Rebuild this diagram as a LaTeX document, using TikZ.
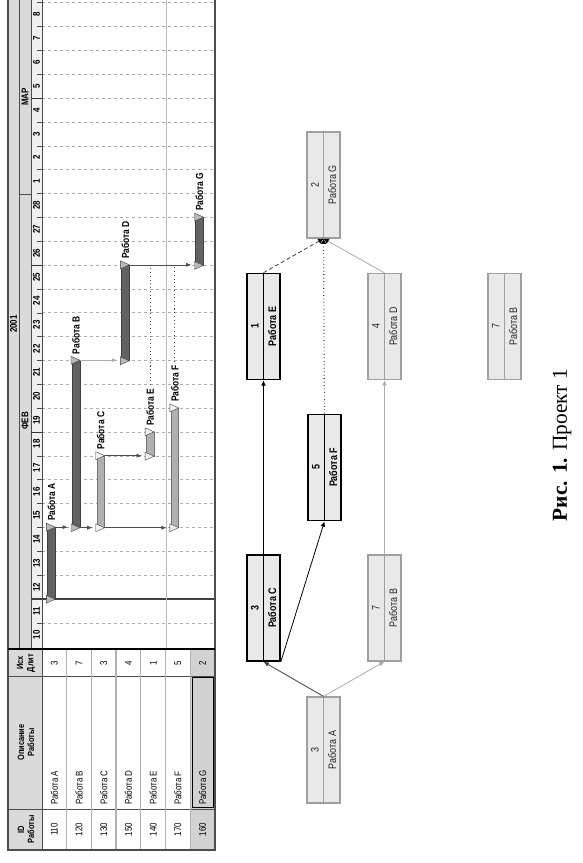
\documentclass[tikz,border=0pt]{standalone}
\usepackage{fontspec}
\setmainfont{Liberation Serif}
\newfontfamily\nar{Liberation Sans}[FakeStretch=0.82]
\usetikzlibrary{arrows.meta,calc}
\definecolor{darkbar}{HTML}{626262}
\definecolor{lightbar}{HTML}{B0B0B0}
\definecolor{hdrgray}{HTML}{DADADA}
\definecolor{nodefill}{HTML}{E9E9E9}
\newcommand\gtri[2]{\filldraw[fill=#2,draw=black!75,line width=0.3pt] ($(#1)+(-5,-4)$) -- ($(#1)+(-5,4)$) -- ($(#1)+(4,0)$) -- cycle;}
\newcommand\netnode[7]{%
  \node[pnode,#6] (#1) at (#2,#3) {};
  \draw[#6,line width=0.6pt] (#1.east) -- (#1.west);
  \node[ntext,#7] (#1num) at ($(#1.center)!0.5!(#1.north)$) {#4};
  \node[ntext,#7] (#1lab) at ($(#1.center)!0.5!(#1.south)$) {#5};}
\begin{document}
\begin{tikzpicture}[x=0.75pt,y=-0.75pt,
 lbl/.style={rotate=90,inner sep=0pt},
 tcell/.style={lbl,font=\nar\fontsize{7.3}{8}\selectfont},
 thead/.style={lbl,font=\nar\bfseries\fontsize{6.8}{7.6}\selectfont,align=center},
 daylbl/.style={lbl,font=\nar\bfseries\fontsize{7.3}{8}\selectfont},
 barlbl/.style={lbl,anchor=west,font=\nar\bfseries\fontsize{7.7}{8}\selectfont},
 gbar/.style={rectangle,inner sep=0pt,minimum width=5.8pt,line width=0.4pt},
 critbar/.style={gbar,fill=darkbar,draw=black!75},
 softbar/.style={gbar,fill=lightbar,draw=black!55},
 griddash/.style={gray!65,line width=0.5pt,dash pattern=on 2pt off 2.5pt},
 garr/.style={-{Latex[length=4pt,width=3pt]},line width=0.5pt,black!70,shorten >=3pt},
 slack/.style={black!70,line width=0.8pt,dotted},
 pnode/.style={rotate=90,rectangle,fill=nodefill,minimum width=79.5pt,minimum height=24.75pt,inner sep=0pt},
 normn/.style={draw=gray!75,line width=0.9pt},
 critn/.style={draw=black,line width=1.2pt},
 normtxt/.style={font=\nar\fontsize{8.2}{9}\selectfont,text=black!85},
 crittxt/.style={font=\nar\bfseries\fontsize{8.2}{9}\selectfont},
 ntext/.style={rotate=90,inner sep=0pt},
 netarr/.style={-{Latex[length=4pt,width=3.5pt]},line width=0.6pt},
 garrG/.style={-{Latex[length=4pt,width=4.5pt,color=black]},line width=0.6pt}
]
\useasboundingbox (0,0) rectangle (582,863);
\fill[white] (0,0) rectangle (582,863);

% ---------- Gantt header bands ----------
\fill[hdrgray] (8,0) rectangle (42,850);
\fill[gray!12] (31,0) rectangle (42,648);
\fill[gray!35] (190.9,650) rectangle (215,850);
\draw[gray!60!black,line width=0.5pt] (19,0) -- (19,648);
\draw[gray!60!black,line width=0.5pt] (31,0) -- (31,648);
\draw[gray!60!black,line width=0.6pt] (19,194.4) -- (31,194.4);

% grid lines and day labels
\foreach \i in {11,...,37} {
  \pgfmathsetmacro\yy{599-(\i-12)*23.85}
  \draw[griddash] (42,\yy) -- (215,\yy);
  \draw[gray!60!black,line width=0.4pt] (37,\yy) -- (42,\yy);
}
\foreach \i in {10,...,36} {
  \pgfmathsetmacro\yy{599-(\i-12)*23.85-11.925}
  \pgfmathtruncatemacro\dd{\i>28 ? \i-28 : \i}
  \node[daylbl] (day\i) at (36.5,\yy) {\dd};
}
\foreach \i in {19,26,33} {
  \pgfmathsetmacro\yy{599-(\i-12)*23.85}
  \draw[black!80,line width=0.8pt] (31,\yy) -- (42,\yy);
}
\draw[black!75,line width=0.9pt] (31,599) -- (215,599);
\draw[gray!55,line width=0.7pt] (166,0) -- (166,648);

\node[daylbl] (hYear) at (13.5,324) {2001};
\node[daylbl] (hFeb) at (25,421) {ФЕВ};
\node[daylbl] (hMar) at (25,97) {МАР};

% ---------- table ----------
\draw[gray!60!black,line width=0.6pt] (8,676) -- (215,676);
\draw[gray!60!black,line width=0.6pt] (8,809) -- (215,809);
\foreach \k in {1,...,6} {
  \draw[gray!60,line width=1pt] ({42+24.7*\k},650) -- ({42+24.7*\k},850);
}
\draw[black,line width=1.1pt] (192.6,677.5) rectangle (213.4,807.5);
\draw[gray!60!black,line width=0.6pt] (42,0) -- (42,850);
\draw[gray!60!black,line width=0.8pt] (8,0) -- (8,850) -- (215,850) -- (215,0);
\draw[black,line width=1.6pt] (8,649) -- (215,649);

\node[thead] (hID) at (26,829.5) {ID\\Работы};
\node[thead] (hDesc) at (26,742.5) {Описание\\Работы};
\node[thead] (hDur) at (26,663) {Исх\\Длит};

\foreach \id/\nm/\du [count=\k from 0] in {110/A/3,120/B/7,130/C/3,150/D/4,140/E/1,170/F/5,160/G/2} {
  \pgfmathsetmacro\xc{42+24.7*(\k+0.5)}
  \node[tcell] (id\k) at (\xc,829.5) {\id};
  \node[tcell,anchor=west] (ds\k) at (\xc,805) {Работа \nm};
  \node[tcell] (du\k) at (\xc,663) {\du};
}

% ---------- bars ----------
\node[critbar,minimum height=53.66pt] (barA) at (51.3,563.2) {};
\node[critbar,minimum height=125.2pt] (barB) at (76,444) {};
\node[softbar,minimum height=53.66pt] (barC) at (100.7,491.7) {};
\node[critbar,minimum height=71.55pt] (barD) at (125.4,312.8) {};
\node[softbar,minimum height=17.9pt] (barE) at (150.1,444) {};
\node[softbar,minimum height=89.4pt] (barF) at (174.8,467.8) {};
\node[critbar,minimum height=35.8pt] (barG) at (199.5,241.25) {};

\gtri{barA.north}{gray!55}\gtri{barA.south}{gray!55}
\gtri{barB.north}{gray!55}\gtri{barB.south}{gray!55}
\gtri{barC.north}{gray!12}\gtri{barC.south}{gray!12}
\gtri{barD.north}{gray!55}\gtri{barD.south}{gray!55}
\gtri{barE.north}{gray!12}\gtri{barE.south}{gray!12}
\gtri{barF.north}{gray!12}\gtri{barF.south}{gray!12}
\gtri{barG.north}{gray!55}\gtri{barG.south}{gray!55}

\node[barlbl] (lA) at ($(barA.north)+(0,-6)$) {Работа A};
\node[barlbl] (lB) at ($(barB.north)+(0,-6)$) {Работа B};
\node[barlbl] (lC) at ($(barC.north)+(0,-6)$) {Работа C};
\node[barlbl] (lD) at ($(barD.north)+(0,-6)$) {Работа D};
\node[barlbl] (lE) at ($(barE.north)+(0,-6)$) {Работа E};
\node[barlbl] (lF) at ($(barF.north)+(0,-6)$) {Работа F};
\node[barlbl] (lG) at ($(barG.north)+(0,-6)$) {Работа G};

\draw[garr] (barA.north east) -- (barA.north east -| barB.west);
\draw[garr] (barB.south east) -- (barB.south east -| barC.west);
\draw[garr] (barC.south east) -- (barC.south east -| barF.west);
\draw[garr,gray!65] (barB.north east) -- (barB.north east -| barD.west);
\draw[garr] (barC.north east) -- (barC.north east -| barE.west);
\draw[garr] (barD.north east) -- (barD.north east -| barG.west);
\draw[slack] ($(lE.east)+(0,-3)$) -- (lE.east |- barD.north);
\draw[slack] ($(lF.east)+(0,-3)$) -- (lF.east |- barD.north);

% ---------- network ----------
\netnode{nA}{323.5}{750}{3}{Работа A}{normn}{normtxt}
\netnode{nC}{263.5}{608}{3}{Работа C}{critn}{crittxt}
\netnode{nB}{384.5}{608}{7}{Работа B}{normn}{normtxt}
\netnode{nF}{324.5}{467.5}{5}{Работа F}{critn}{crittxt}
\netnode{nE}{263.5}{326.5}{1}{Работа E}{critn}{crittxt}
\netnode{nD}{384.5}{326.5}{4}{Работа D}{normn}{normtxt}
\netnode{nG}{323.5}{185}{2}{Работа G}{normn}{normtxt}
\netnode{nBx}{504.5}{326.5}{7}{Работа B}{normn}{normtxt}

\draw[netarr,black!75] (nA.east) -- (nC.west);
\draw[netarr,gray!65] (nA.east) -- (nB.west);
\draw[netarr,black] (nC.east) -- (nE.west);
\draw[netarr,black] (nC.south west) -- (nF.west);
\draw[netarr,gray!65] (nB.east) -- (nD.west);
\draw[garrG,black!75,dash pattern=on 3pt off 2pt] (nE.east) -- (nG.west);
\draw[garrG,black!75,dotted,line width=0.9pt] (nF.east) -- (nG.west);
\draw[garrG,gray!65] (nD.east) -- (nG.west);

% ---------- caption ----------
\node[rotate=90,inner sep=0pt,font=\fontsize{16}{18}\selectfont] (cap) at (562,445) {\textbf{Рис. 1.} Проект 1};
\end{tikzpicture}
\end{document}
